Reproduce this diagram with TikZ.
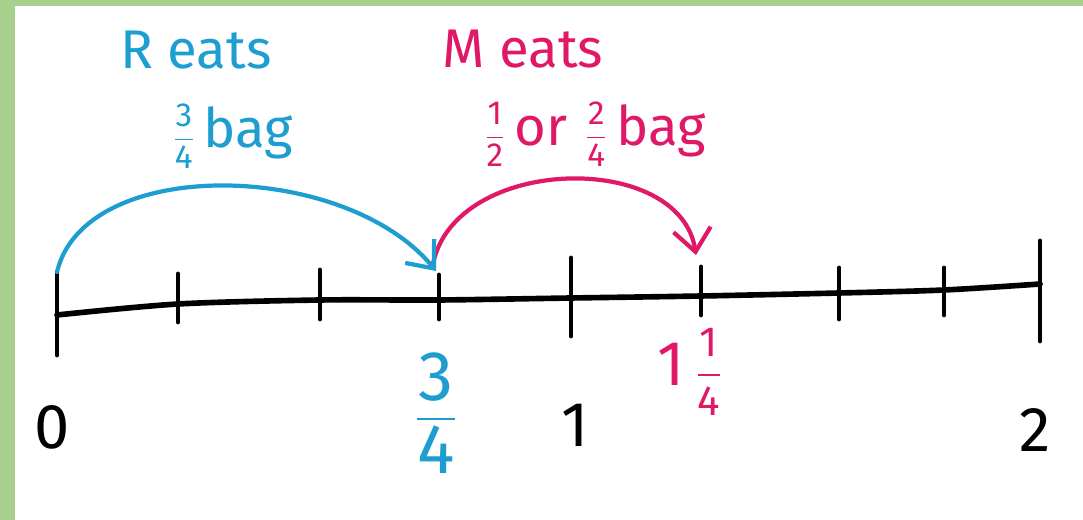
\documentclass[tikz,border=0pt]{standalone}
\usepackage{amsmath}
\usepackage{fontspec}
\setmainfont{Fira Sans}
\usetikzlibrary{arrows.meta}
\definecolor{FrameGreen}{RGB}{168,208,141}
\definecolor{REats}{RGB}{30,158,208}
\definecolor{MEats}{RGB}{224,24,104}
\newcommand{\fr}[2]{{\fontsize{19}{22}\selectfont$\dfrac{\text{#1}}{\text{#2}}$}}

\begin{document}
\begin{tikzpicture}[
    hand/.style={line width=2.4pt, line cap=round},
    tickmark/.style={line width=2.8pt, line cap=round},
    jump/.style={hand, -{Straight Barb[length=4.5mm,width=7.5mm]}},
    toplbl/.style={font=\fontsize{31}{34}\selectfont},
    numlbl/.style={font=\fontsize{36}{40}\selectfont}
  ]
  \useasboundingbox (0,0) rectangle (21.66,10.4);
  % frame
  \fill[FrameGreen] (0,10.28) rectangle (21.66,10.4);
  \fill[FrameGreen] (0,0) rectangle (0.3,10.4);

  % number line
  \draw[line width=3.2pt, line cap=round] plot[smooth, tension=0.5] coordinates
    {(1.14,4.10) (3.56,4.32) (6.40,4.40) (8.78,4.40) (11.42,4.44) (14.02,4.48) (16.78,4.54) (18.88,4.60) (20.80,4.72)};
  \foreach \nm/\x/\ya/\yb in {z/1.14/4.96/3.30, a/3.56/4.92/3.96, b/6.40/5.00/4.02,
      tq/8.78/4.90/4.02, one/11.42/5.24/3.68, fq/14.02/5.06/4.10,
      c/16.78/5.04/4.02, d/18.88/5.04/4.10, two/20.80/5.58/3.58}{
    \coordinate (\nm) at (\x,\ya);
    \draw[tickmark] (\x,\ya) -- (\x,\yb);
  }

  % jumps
  \coordinate (tqtip) at (8.72,4.98);
  \coordinate (tqstart) at (8.66,5.12);
  \coordinate (fqtip) at (13.92,5.30);
  \draw[jump, MEats] (tqstart) .. controls (9.1,7.3) and (13.6,7.4) .. (fqtip);
  \draw[jump, REats] (z) .. controls (1.7,7.3) and (6.9,7.2) .. (tqtip);

  % labels above
  \node[toplbl, REats] (reats) at (3.92,9.40) {R eats};
  \node[toplbl, REats] (rbag) at (4.66,7.68) {\fr{3}{4}\,bag};
  \node[toplbl, MEats] (meats) at (10.46,9.42) {M eats};
  \node[toplbl, MEats] (mbag) at (11.9,7.72) {\fr{1}{2}\,or\,\,\fr{2}{4}\,bag};

  % labels below
  \node[numlbl] (lzero) at (1.04,1.86) {0};
  \node[numlbl, REats, font=\fontsize{40}{44}\selectfont] (ltq) at (8.72,2.14) {$\dfrac{\text{3}}{\text{4}}$};
  \node[numlbl] (lone) at (11.5,1.90) {1};
  \node[numlbl, MEats] (lfq) at (13.8,2.96) {1\,{\fontsize{24}{28}\selectfont$\dfrac{\text{1}}{\text{4}}$}};
  \node[numlbl] (ltwo) at (20.7,1.80) {2};
\end{tikzpicture}
\end{document}
